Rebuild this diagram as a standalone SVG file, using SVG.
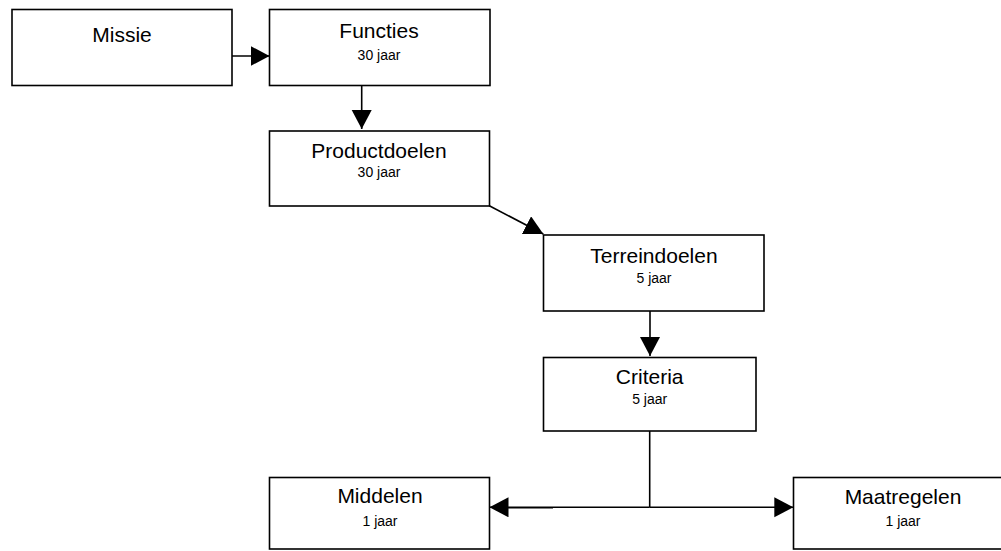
<svg xmlns="http://www.w3.org/2000/svg" width="1001" height="551" viewBox="0 0 1001 551">
<style>
.box{fill:#fff;stroke:#000;stroke-width:1.6}
.t{font-family:"Liberation Sans",Arial,sans-serif;font-size:21px;fill:#000;text-anchor:middle}
.s{font-family:"Liberation Sans",Arial,sans-serif;font-size:14px;fill:#000;text-anchor:middle}
.c{fill:none;stroke:#000;stroke-width:1.6}
</style>
<defs>
<marker id="ah" markerUnits="userSpaceOnUse" markerWidth="20" markerHeight="21" refX="19" refY="10" orient="auto">
<path d="M0,0 L19,10 L0,20 z" fill="#000"/>
</marker>
</defs>
<rect width="1001" height="551" fill="#fff"/>
<g id="connectors">
<line class="c" x1="232" y1="56" x2="269.5" y2="56" marker-end="url(#ah)"/>
<line class="c" x1="361.7" y1="85.5" x2="361.7" y2="129" marker-end="url(#ah)"/>
<line class="c" x1="489.3" y1="205.7" x2="543.3" y2="234" marker-end="url(#ah)"/>
<line class="c" x1="650" y1="311" x2="650" y2="356" marker-end="url(#ah)"/>
<line class="c" x1="649.7" y1="431" x2="649.7" y2="507.3"/>
<line class="c" x1="649.7" y1="507.3" x2="489.5" y2="507.3" marker-end="url(#ah)"/>
<line class="c" x1="649.7" y1="507.3" x2="793.3" y2="507.3" marker-end="url(#ah)"/>
<line x1="505" y1="507.8" x2="553" y2="507.8" stroke="#000" stroke-width="1.2"/>
</g>
<g id="missie">
<rect class="box" x="12" y="9.5" width="220" height="76"/>
<text class="t" x="122" y="42.3">Missie</text>
</g>
<g id="functies">
<rect class="box" x="269.5" y="9.5" width="220.5" height="76"/>
<text class="t" x="379" y="38.3">Functies</text>
<text class="s" x="379" y="60">30 jaar</text>
</g>
<g id="productdoelen">
<rect class="box" x="269.5" y="131" width="220" height="75"/>
<text class="t" x="379" y="158.3">Productdoelen</text>
<text class="s" x="379" y="176.7">30 jaar</text>
</g>
<g id="terreindoelen">
<rect class="box" x="543.5" y="235" width="220.5" height="76"/>
<text class="t" x="654" y="263.3">Terreindoelen</text>
<text class="s" x="654" y="282.5">5 jaar</text>
</g>
<g id="criteria">
<rect class="box" x="543.5" y="357.5" width="212.5" height="73.5"/>
<text class="t" x="649.7" y="384">Criteria</text>
<text class="s" x="649.7" y="404">5 jaar</text>
</g>
<g id="middelen">
<rect class="box" x="269.5" y="477.5" width="220" height="71.5"/>
<text class="t" x="380" y="503.3">Middelen</text>
<text class="s" x="380" y="526">1 jaar</text>
</g>
<g id="maatregelen">
<rect class="box" x="793.5" y="477.5" width="220" height="71.5"/>
<text class="t" x="903" y="504.3">Maatregelen</text>
<text class="s" x="903" y="525.5">1 jaar</text>
</g>
</svg>
